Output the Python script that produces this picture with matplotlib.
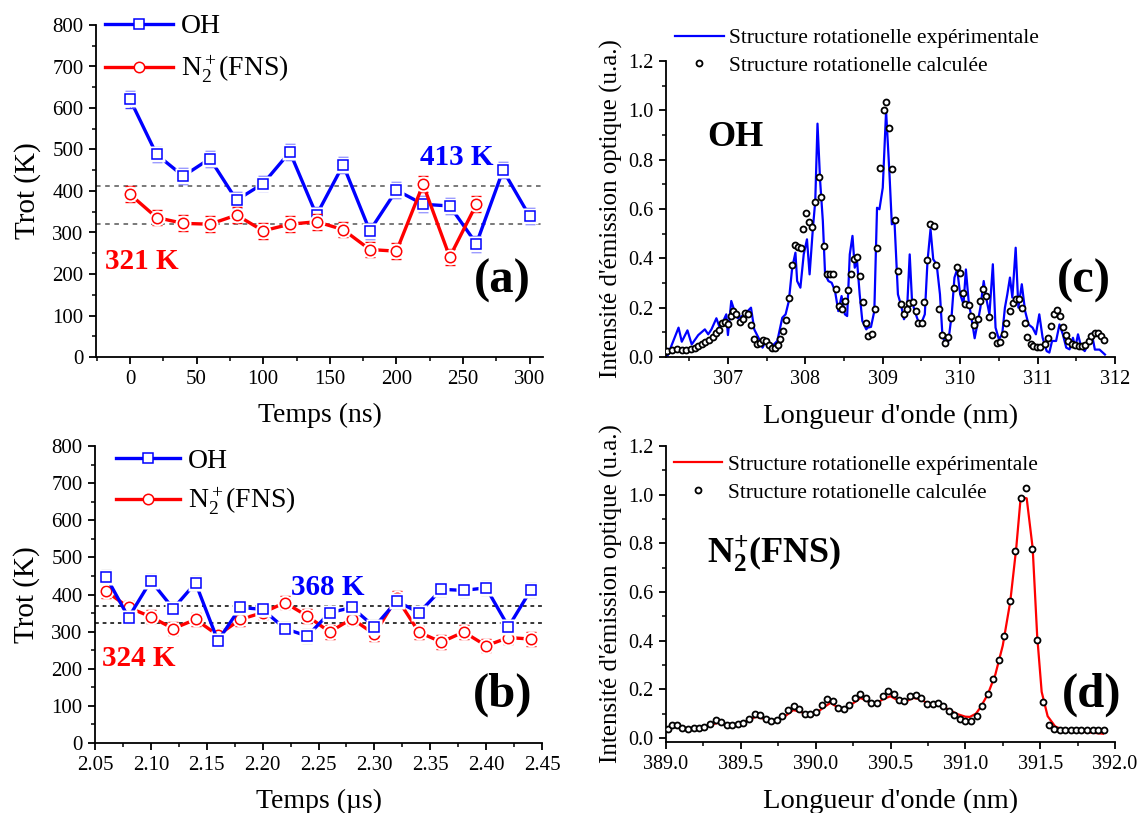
import matplotlib
matplotlib.use("Agg")
import matplotlib.pyplot as plt
from matplotlib.lines import Line2D
from matplotlib.ticker import MultipleLocator, FormatStrFormatter

plt.rcParams['font.family'] = ['Liberation Serif', 'DejaVu Serif']
plt.rcParams['mathtext.fontset'] = 'custom'
plt.rcParams['mathtext.rm'] = 'Liberation Serif'
plt.rcParams['mathtext.it'] = 'Liberation Serif:italic'
plt.rcParams['mathtext.bf'] = 'Liberation Serif:bold'

# ---------------- data: panel (a) ----------------
t_a_oh = [0, 20, 40, 60, 80, 100, 120, 140, 160, 180, 200, 220, 240, 260, 280, 300]
oh_a = [621, 488, 436, 478, 378, 418, 494, 342, 463, 304, 402, 368, 364, 273, 450, 339]
oh_a_err = [20, 19, 19, 19, 19, 19, 20, 19, 19, 19, 19, 19, 19, 19, 19, 19]
t_a_n2 = [0, 20, 40, 60, 80, 100, 120, 140, 160, 180, 200, 220, 240, 260]
n2_a = [392, 336, 322, 320, 342, 304, 320, 326, 307, 259, 255, 416, 241, 368]
n2_a_err = [19, 19, 19, 19, 19, 19, 19, 19, 19, 19, 19, 19, 19, 19]
mean_a_oh = 413
mean_a_n2 = 321

# ---------------- data: panel (b) ----------------
t_b = [2.06, 2.08, 2.10, 2.12, 2.14, 2.16, 2.18, 2.20, 2.22, 2.24,
       2.26, 2.28, 2.30, 2.32, 2.34, 2.36, 2.38, 2.40, 2.42, 2.44]
oh_b = [448, 338, 437, 362, 431, 275, 365, 360, 308, 288,
        351, 365, 313, 382, 351, 414, 411, 418, 313, 412]
oh_b_err = [18, 18, 18, 18, 18, 18, 18, 18, 18, 18,
            18, 18, 18, 18, 18, 18, 18, 18, 18, 18]
n2_b = [409, 365, 340, 308, 333, 290, 333, 351, 378, 342,
        299, 335, 293, 391, 298, 272, 299, 262, 284, 280]
n2_b_err = [18, 18, 18, 18, 18, 18, 18, 18, 18, 18,
            18, 18, 18, 18, 18, 18, 18, 18, 18, 18]
mean_b_oh = 368
mean_b_n2 = 324

# ---------------- data: panel (c) OH spectrum ----------------
wl_c_exp = [306.20, 306.213, 306.362, 306.404, 306.477, 306.532, 306.617, 306.702, 306.745, 306.787,
            306.851, 306.894, 306.936, 306.979, 307.0, 307.043, 307.085, 307.128, 307.179, 307.221,
            307.255, 307.298, 307.340, 307.404, 307.447, 307.489, 307.532, 307.574, 307.638, 307.702,
            307.745, 307.787, 307.830, 307.872, 307.894, 307.936, 307.979, 308.021, 308.055, 308.098,
            308.128, 308.157, 308.191, 308.226, 308.255, 308.298, 308.340, 308.383, 308.426, 308.468,
            308.511, 308.540, 308.574, 308.609, 308.638, 308.668, 308.702, 308.736, 308.787, 308.804,
            308.848, 308.891, 308.926, 308.957, 309.0, 309.043, 309.087, 309.117, 309.152, 309.196,
            309.239, 309.274, 309.313, 309.348, 309.378, 309.413, 309.457, 309.5, 309.543, 309.578,
            309.617, 309.652, 309.696, 309.739, 309.770, 309.813, 309.848, 309.891, 309.926, 309.961,
            310.0, 310.043, 310.074, 310.109, 310.152, 310.187, 310.230, 310.261, 310.304, 310.335,
            310.378, 310.422, 310.457, 310.5, 310.543, 310.578, 310.609, 310.643, 310.674, 310.717,
            310.752, 310.796, 310.839, 310.883, 310.935, 310.978, 311.022, 311.065, 311.117, 311.152,
            311.187, 311.239, 311.283, 311.326, 311.370, 311.413, 311.457, 311.487, 311.522, 311.565,
            311.609, 311.65, 311.70, 311.74, 311.80, 311.87]
int_c_exp = [0.0, 0.0, 0.119, 0.062, 0.108, 0.051, 0.089, 0.112, 0.092, 0.112,
             0.157, 0.119, 0.143, 0.173, 0.089, 0.227, 0.186, 0.157, 0.166, 0.146,
             0.186, 0.200, 0.112, 0.072, 0.038, 0.065, 0.051, 0.045, 0.065, 0.159,
             0.173, 0.227, 0.362, 0.423, 0.308, 0.281, 0.416, 0.477, 0.335, 0.524,
             0.632, 0.946, 0.714, 0.551, 0.335, 0.308, 0.301, 0.268, 0.186, 0.247,
             0.173, 0.166, 0.416, 0.491, 0.362, 0.389, 0.254, 0.146, 0.112, 0.119,
             0.122, 0.186, 0.605, 0.599, 0.686, 0.997, 0.741, 0.538, 0.545, 0.254,
             0.207, 0.153, 0.186, 0.416, 0.227, 0.186, 0.146, 0.139, 0.173, 0.389,
             0.518, 0.396, 0.376, 0.254, 0.092, 0.045, 0.065, 0.173, 0.322, 0.355,
             0.254, 0.214, 0.355, 0.227, 0.146, 0.076, 0.146, 0.200, 0.308, 0.241,
             0.173, 0.376, 0.119, 0.072, 0.092, 0.200, 0.254, 0.322, 0.241, 0.443,
             0.200, 0.295, 0.186, 0.132, 0.119, 0.092, 0.173, 0.078, 0.024, 0.018,
             0.065, 0.065, 0.132, 0.092, 0.038, 0.031, 0.078, 0.038, 0.092, 0.038,
             0.024, 0.050, 0.095, 0.030, 0.030, 0.010]

wl_c_calc = [306.213, 306.278, 306.338, 306.403, 306.464, 306.524, 306.570, 306.617, 306.663, 306.709,
             306.756, 306.802, 306.849, 306.886, 306.927, 306.965, 306.997, 307.034, 307.067, 307.104,
             307.150, 307.196, 307.220, 307.261, 307.299, 307.336, 307.373, 307.410, 307.456, 307.498,
             307.530, 307.568, 307.605, 307.642, 307.674, 307.716, 307.753, 307.790, 307.827, 307.860,
             307.902, 307.943, 307.976, 308.013, 308.050, 308.087, 308.124, 308.171, 308.208, 308.245,
             308.277, 308.319, 308.361, 308.398, 308.435, 308.477, 308.514, 308.551, 308.588, 308.625,
             308.667, 308.704, 308.741, 308.778, 308.815, 308.857, 308.894, 308.931, 308.968, 309.010,
             309.043, 309.080, 309.121, 309.154, 309.196, 309.233, 309.274, 309.312, 309.339, 309.386,
             309.423, 309.460, 309.502, 309.539, 309.576, 309.608, 309.659, 309.692, 309.729, 309.766,
             309.799, 309.845, 309.877, 309.919, 309.956, 309.993, 310.035, 310.068, 310.109, 310.146,
             310.184, 310.225, 310.262, 310.295, 310.337, 310.374, 310.411, 310.481, 310.518, 310.564,
             310.596, 310.638, 310.680, 310.721, 310.759, 310.796, 310.833, 310.865, 310.912, 310.944,
             310.991, 311.037, 311.093, 311.130, 311.176, 311.209, 311.251, 311.288, 311.325, 311.362,
             311.399, 311.441, 311.487, 311.533, 311.580, 311.617, 311.658, 311.695, 311.742, 311.779,
             311.820, 311.857]
int_c_calc = [0.024, 0.030, 0.031, 0.030, 0.030, 0.032, 0.037, 0.043, 0.054, 0.062,
              0.070, 0.081, 0.097, 0.110, 0.139, 0.142, 0.135, 0.165, 0.187, 0.176,
              0.142, 0.153, 0.179, 0.176, 0.129, 0.074, 0.051, 0.057, 0.068, 0.065,
              0.050, 0.037, 0.038, 0.050, 0.074, 0.106, 0.149, 0.241, 0.375, 0.456,
              0.447, 0.440, 0.517, 0.582, 0.548, 0.526, 0.629, 0.728, 0.650, 0.452,
              0.338, 0.338, 0.338, 0.276, 0.208, 0.194, 0.226, 0.273, 0.336, 0.399,
              0.406, 0.327, 0.221, 0.137, 0.085, 0.092, 0.196, 0.442, 0.767, 1.000,
              1.034, 0.927, 0.762, 0.555, 0.348, 0.214, 0.176, 0.194, 0.219, 0.223,
              0.187, 0.139, 0.137, 0.223, 0.394, 0.541, 0.533, 0.372, 0.194, 0.088,
              0.057, 0.080, 0.160, 0.281, 0.365, 0.341, 0.260, 0.214, 0.211, 0.168,
              0.130, 0.153, 0.226, 0.277, 0.248, 0.162, 0.088, 0.058, 0.061, 0.093,
              0.138, 0.187, 0.217, 0.237, 0.234, 0.200, 0.139, 0.081, 0.054, 0.043,
              0.041, 0.041, 0.054, 0.077, 0.127, 0.176, 0.189, 0.166, 0.122, 0.088,
              0.065, 0.051, 0.047, 0.045, 0.045, 0.050, 0.065, 0.084, 0.097, 0.099,
              0.087, 0.068]

# ---------------- data: panel (d) N2+ spectrum ----------------
wl_d_exp = [389.00, 389.05, 389.10, 389.15, 389.20, 389.25, 389.30, 389.35, 389.40, 389.45,
            389.50, 389.55, 389.60, 389.65, 389.70, 389.75, 389.80, 389.85, 389.90, 389.95,
            390.00, 390.05, 390.10, 390.15, 390.20, 390.25, 390.30, 390.35, 390.40, 390.45,
            390.50, 390.55, 390.60, 390.65, 390.70, 390.75, 390.80, 390.85, 390.90, 390.95,
            391.00, 391.03, 391.07, 391.10, 391.15, 391.20, 391.25, 391.30, 391.34, 391.37,
            391.41, 391.45, 391.48, 391.51, 391.55, 391.60, 391.65, 391.70, 391.80, 391.92]
int_d_exp = [0.035, 0.048, 0.045, 0.040, 0.042, 0.045, 0.055, 0.063, 0.055, 0.053,
             0.058, 0.072, 0.088, 0.080, 0.068, 0.072, 0.092, 0.115, 0.108, 0.093,
             0.100, 0.125, 0.145, 0.125, 0.118, 0.143, 0.165, 0.150, 0.140, 0.160,
             0.172, 0.155, 0.150, 0.165, 0.160, 0.142, 0.140, 0.130, 0.113, 0.098,
             0.088, 0.087, 0.100, 0.125, 0.180, 0.260, 0.380, 0.560, 0.780, 0.990,
             0.985, 0.780, 0.420, 0.190, 0.090, 0.048, 0.035, 0.030, 0.025, 0.018]

wl_d_calc = [389.012, 389.041, 389.074, 389.110, 389.146, 389.185, 389.221, 389.257, 389.295, 389.331,
             389.370, 389.406, 389.444, 389.480, 389.516, 389.554, 389.593, 389.629, 389.665, 389.703,
             389.739, 389.778, 389.816, 389.852, 389.890, 389.926, 389.962, 390.001, 390.039, 390.075,
             390.114, 390.150, 390.188, 390.224, 390.260, 390.299, 390.334, 390.373, 390.409, 390.447,
             390.483, 390.522, 390.557, 390.593, 390.632, 390.668, 390.706, 390.742, 390.781, 390.817,
             390.853, 390.891, 390.927, 390.965, 391.001, 391.037, 391.076, 391.112, 391.150, 391.186,
             391.225, 391.261, 391.297, 391.335, 391.371, 391.407, 391.445, 391.481, 391.520, 391.556,
             391.594, 391.630, 391.666, 391.705, 391.740, 391.776, 391.815, 391.851, 391.887, 391.925]
int_d_calc = [0.038, 0.052, 0.052, 0.043, 0.036, 0.041, 0.043, 0.045, 0.059, 0.073,
              0.066, 0.055, 0.055, 0.056, 0.062, 0.080, 0.100, 0.096, 0.077, 0.070,
              0.075, 0.089, 0.114, 0.132, 0.118, 0.098, 0.098, 0.107, 0.134, 0.160,
              0.151, 0.125, 0.121, 0.134, 0.166, 0.182, 0.166, 0.144, 0.144, 0.172,
              0.192, 0.181, 0.155, 0.152, 0.173, 0.178, 0.165, 0.141, 0.141, 0.144,
              0.132, 0.110, 0.093, 0.080, 0.070, 0.070, 0.091, 0.133, 0.182, 0.243,
              0.320, 0.419, 0.563, 0.770, 0.985, 1.029, 0.778, 0.402, 0.148, 0.055,
              0.036, 0.033, 0.033, 0.033, 0.033, 0.033, 0.033, 0.033, 0.033, 0.033]

# labels
lab_oh = 'OH'
lab_n2 = r'N$_2^+$(FNS)'
lab_exp = 'Structure rotationelle expérimentale'
lab_calc = 'Structure rotationelle calculée'

BLUE = '#0000ff'
RED = '#ff0000'

fig = plt.figure(figsize=(11.4, 8.13), dpi=100)
W, H = 1140, 813

def ax_px(l, r, t, b):
    return fig.add_axes([l / W, (H - b) / H, (r - l) / W, (b - t) / H])

ax_a = ax_px(96, 543, 25, 357)
ax_b = ax_px(95, 542, 446, 743)
ax_c = ax_px(666, 1115, 61, 357)
ax_d = ax_px(666, 1115, 446, 742)

def style(ax, fs):
    for s in ['top', 'right']:
        ax.spines[s].set_visible(False)
    for s in ['left', 'bottom']:
        ax.spines[s].set_linewidth(1.3)
    ax.tick_params(which='major', direction='out', length=5, width=1.3, labelsize=fs, pad=4)
    ax.tick_params(which='minor', direction='out', length=3, width=1.1)

def series(ax, x, y, err, color, ecolor, marker, z):
    ax.plot(x, y, '-', color=color, lw=2.4, zorder=z, solid_capstyle='butt')
    ax.errorbar(x, y, yerr=err, fmt='none', ecolor=ecolor, elinewidth=1.0,
                capsize=3.5, capthick=1.0, zorder=z + 0.1)
    ax.plot(x, y, linestyle='none', marker=marker, ms=11.5, mfc='white', mec='none', zorder=z + 0.2)
    ax.plot(x, y, linestyle='none', marker=marker, ms=7.5, mfc='white', mec=color, mew=1.1,
            zorder=z + 0.3)

# ---------- panel (a) ----------
style(ax_a, 15)
ax_a.axhline(mean_a_oh, color='#555555', ls=(0, (3, 3)), lw=1.1, zorder=1)
ax_a.axhline(mean_a_n2, color='#555555', ls=(0, (3, 3)), lw=1.1, zorder=1)
series(ax_a, t_a_oh, oh_a, oh_a_err, BLUE, '#3a3aff', 's', 2)
series(ax_a, t_a_n2, n2_a, n2_a_err, RED, RED, 'o', 3)
ax_a.set_xlim(-25.5, 310)
ax_a.set_ylim(0, 800)
ax_a.xaxis.set_major_locator(MultipleLocator(50))
ax_a.xaxis.set_minor_locator(MultipleLocator(25))
ax_a.yaxis.set_major_locator(MultipleLocator(100))
ax_a.yaxis.set_minor_locator(MultipleLocator(50))
ax_a.set_xlabel('Temps (ns)', fontsize=20, labelpad=10)
ax_a.set_ylabel('Trot (K)', fontsize=21, labelpad=8)
ax_a.text(0.725, 0.602, '413 K', transform=ax_a.transAxes, color=BLUE, fontsize=21,
          fontweight='bold', ha='left', va='center')
ax_a.text(0.02, 0.289, '321 K', transform=ax_a.transAxes, color=RED, fontsize=21,
          fontweight='bold', ha='left', va='center')
ax_a.text(0.908, 0.229, '(a)', transform=ax_a.transAxes, fontsize=35,
          fontweight='bold', ha='center', va='center')

def leg_handles(ax, fs, x0, y0, hl, spacing):
    h1 = Line2D([], [], color=BLUE, lw=2.4, marker='s', ms=7.5, mfc='white', mec=BLUE, mew=1.1)
    h2 = Line2D([], [], color=RED, lw=2.4, marker='o', ms=7.5, mfc='white', mec=RED, mew=1.1)
    ax.legend([h1, h2], [lab_oh, lab_n2], loc='upper left', bbox_to_anchor=(x0, y0),
              frameon=False, fontsize=fs, handlelength=hl, handletextpad=0.3,
              labelspacing=spacing, borderpad=0, borderaxespad=0)

leg_handles(ax_a, 20, 0.02, 1.033, 2.45, 0.52)

# ---------- panel (b) ----------
style(ax_b, 15)
ax_b.axhline(mean_b_oh, color='black', ls=(0, (2.5, 2.5)), lw=1.1, zorder=1)
ax_b.axhline(mean_b_n2, color='black', ls=(0, (2.5, 2.5)), lw=1.1, zorder=1)
series(ax_b, t_b, n2_b, n2_b_err, RED, RED, 'o', 2)
series(ax_b, t_b, oh_b, oh_b_err, BLUE, '#8c8c8c', 's', 3)
ax_b.set_xlim(2.05, 2.45)
ax_b.set_ylim(0, 800)
ax_b.xaxis.set_major_locator(MultipleLocator(0.05))
ax_b.xaxis.set_minor_locator(MultipleLocator(0.025))
ax_b.yaxis.set_major_locator(MultipleLocator(100))
ax_b.yaxis.set_minor_locator(MultipleLocator(50))
ax_b.xaxis.set_major_formatter(FormatStrFormatter('%.2f'))
ax_b.set_xlabel('Temps (µs)', fontsize=20, labelpad=10)
ax_b.set_ylabel('Trot (K)', fontsize=21, labelpad=8)
ax_b.text(0.438, 0.525, '368 K', transform=ax_b.transAxes, color=BLUE, fontsize=21,
          fontweight='bold', ha='left', va='center')
ax_b.text(0.016, 0.286, '324 K', transform=ax_b.transAxes, color=RED, fontsize=21,
          fontweight='bold', ha='left', va='center')
ax_b.text(0.913, 0.162, '(b)', transform=ax_b.transAxes, fontsize=35,
          fontweight='bold', ha='center', va='center')
leg_handles(ax_b, 20, 0.047, 0.993, 2.3, 0.45)

# ---------- panel (c) ----------
style(ax_c, 14.5)
ax_c.plot(wl_c_exp, int_c_exp, '-', color=BLUE, lw=1.6, zorder=2)
ax_c.plot(wl_c_calc, int_c_calc, linestyle='none', marker='o', ms=4.3, mfc='white',
          mec='black', mew=1.3, zorder=3)
ax_c.set_xlim(306.2, 312)
ax_c.set_ylim(0, 1.2)
ax_c.xaxis.set_major_locator(MultipleLocator(1))
ax_c.xaxis.set_minor_locator(MultipleLocator(0.5))
ax_c.yaxis.set_major_locator(MultipleLocator(0.2))
ax_c.yaxis.set_minor_locator(MultipleLocator(0.1))
ax_c.xaxis.set_major_formatter(FormatStrFormatter('%d'))
ax_c.yaxis.set_major_formatter(FormatStrFormatter('%.1f'))
ax_c.set_xlabel("Longueur d'onde (nm)", fontsize=20.5, labelpad=11)
ax_c.set_ylabel("Intensité d'émission optique (u.a.)", fontsize=18, labelpad=4)
ax_c.text(0.091, 0.743, 'OH', transform=ax_c.transAxes, fontsize=26,
          fontweight='bold', ha='left', va='center')
ax_c.text(0.931, 0.257, '(c)', transform=ax_c.transAxes, fontsize=35,
          fontweight='bold', ha='center', va='center')
hc1 = Line2D([], [], color=BLUE, lw=1.6)
hc2 = Line2D([], [], linestyle='none', marker='o', ms=4.3, mfc='white', mec='black', mew=1.3)
ax_c.legend([hc1, hc2], [lab_exp, lab_calc], loc='upper left', bbox_to_anchor=(0.02, 1.111),
            frameon=False, fontsize=15.5, handlelength=2.26, handletextpad=0.25,
            labelspacing=0.36, borderpad=0, borderaxespad=0)

# ---------- panel (d) ----------
style(ax_d, 14.5)
ax_d.plot(wl_d_exp, int_d_exp, '-', color=RED, lw=1.6, zorder=2)
ax_d.plot(wl_d_calc, int_d_calc, linestyle='none', marker='o', ms=4.3, mfc='white',
          mec='black', mew=1.3, zorder=3)
ax_d.set_xlim(389.0, 392.0)
ax_d.set_ylim(-0.016, 1.2)
ax_d.xaxis.set_major_locator(MultipleLocator(0.5))
ax_d.xaxis.set_minor_locator(MultipleLocator(0.25))
ax_d.yaxis.set_major_locator(MultipleLocator(0.2))
ax_d.yaxis.set_minor_locator(MultipleLocator(0.1))
ax_d.xaxis.set_major_formatter(FormatStrFormatter('%.1f'))
ax_d.yaxis.set_major_formatter(FormatStrFormatter('%.1f'))
ax_d.set_xlabel("Longueur d'onde (nm)", fontsize=20.5, labelpad=11)
ax_d.set_ylabel("Intensité d'émission optique (u.a.)", fontsize=18, labelpad=4)
ax_d.text(0.091, 0.605, r'N$_\mathbf{2}^\mathbf{+}$(FNS)', transform=ax_d.transAxes, fontsize=26,
          fontweight='bold', ha='left', va='baseline')
ax_d.text(0.949, 0.159, '(d)', transform=ax_d.transAxes, fontsize=35,
          fontweight='bold', ha='center', va='center')
hd1 = Line2D([], [], color=RED, lw=1.6)
hd2 = Line2D([], [], linestyle='none', marker='o', ms=4.3, mfc='white', mec='black', mew=1.3)
ax_d.legend([hd1, hd2], [lab_exp, lab_calc], loc='upper left', bbox_to_anchor=(0.017, 0.97),
            frameon=False, fontsize=15.5, handlelength=2.26, handletextpad=0.25,
            labelspacing=0.36, borderpad=0, borderaxespad=0)

fig.savefig('out.png', dpi=100)
